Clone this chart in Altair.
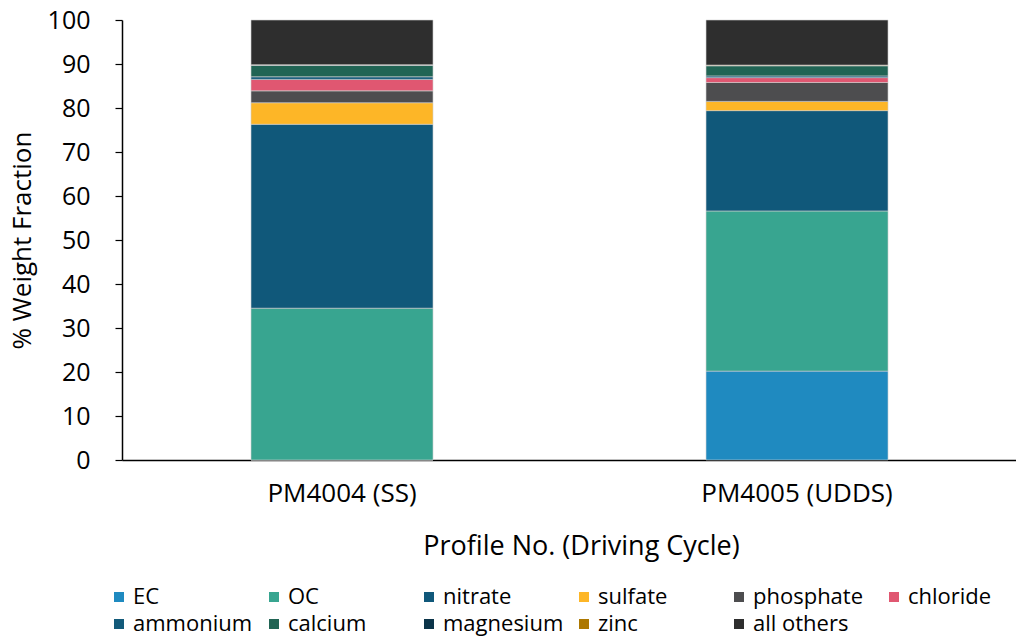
import altair as alt
import pandas as pd

profiles = ["PM4004 (SS)", "PM4005 (UDDS)"]
species = ["EC", "OC", "nitrate", "sulfate", "phosphate", "chloride",
           "ammonium", "calcium", "magnesium", "zinc", "all others"]
colors = ["#1f8ac0", "#38a590", "#10587a", "#fdb627", "#4d4d4f", "#e05771",
          "#135a7a", "#216454", "#0b3449", "#ad7800", "#2e2e2e"]
pm4004 = [0.0, 34.5, 41.8, 4.9, 2.7, 2.6, 0.6, 2.6, 0.05, 0.1, 10.15]
pm4005 = [20.2, 36.4, 22.8, 2.1, 4.3, 1.1, 0.4, 2.3, 0.05, 0.1, 10.25]

rows = []
for i, s in enumerate(species):
    rows.append({"profile": profiles[0], "species": s, "idx": i, "value": pm4004[i]})
    rows.append({"profile": profiles[1], "species": s, "idx": i, "value": pm4005[i]})
df = pd.DataFrame(rows)

FONT = "Open Sans"

chart = alt.Chart(df).mark_bar(stroke="#d0d0d0", strokeWidth=0.6).encode(
    x=alt.X("profile:N", sort=profiles,
            scale=alt.Scale(paddingInner=0.6, paddingOuter=0.2824, align=0.502),
            axis=alt.Axis(title="Profile No. (Driving Cycle)", labelAngle=0,
                          ticks=False, labelPadding=20, titlePadding=27,
                          titleX=459, titleAlign="center", labelLimit=400,
                          domainColor="#000000", domainWidth=1.5,
                          labelFontSize=26, titleFontSize=27,
                          labelColor="#000000", titleColor="#000000",
                          labelFont=FONT, titleFont=FONT, titleFontWeight="normal")),
    y=alt.Y("value:Q", stack="zero",
            scale=alt.Scale(domain=[0, 100], nice=False),
            axis=alt.Axis(title="% Weight Fraction", values=list(range(0, 101, 10)),
                          grid=False, tickSize=7, tickColor="#000000",
                          domainColor="#000000", domainWidth=1.5, tickWidth=1.2,
                          labelPadding=25, titlePadding=12,
                          labelFontSize=25, titleFontSize=26,
                          labelColor="#000000", titleColor="#000000",
                          labelFont=FONT, titleFont=FONT, titleFontWeight="normal")),
    color=alt.Color("species:N", sort=species,
                    scale=alt.Scale(domain=species, range=colors),
                    legend=alt.Legend(title=None, orient="none", legendX=-14, legendY=566,
                                      direction="horizontal",
                                      columns=6, gridAlign="all", columnPadding=9,
                                      rowPadding=5, symbolType="square", symbolSize=100,
                                      symbolStrokeWidth=0, labelFontSize=22,
                                      labelFont=FONT, labelColor="#000000",
                                      labelOffset=3, labelLimit=200)),
    order=alt.Order("idx:Q", sort="ascending"),
).properties(
    width=894, height=440,
    autosize=alt.AutoSizeParams(type="none"),
    padding={"left": 122, "top": 20, "right": 0, "bottom": 177},
).configure_view(stroke=None)

chart.save("out.html", embed_options={"renderer": "svg", "actions": False})
